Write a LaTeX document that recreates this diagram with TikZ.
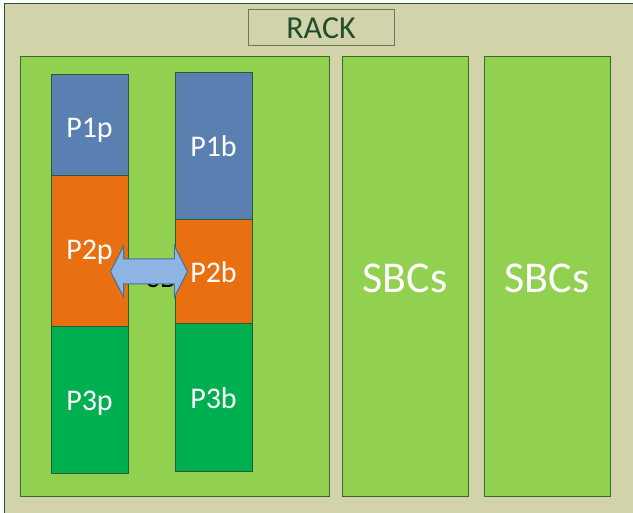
\documentclass[tikz,border=0pt]{standalone}
\usepackage{fontspec}
\setmainfont{Carlito}
\usetikzlibrary{shapes.arrows}
\definecolor{rackbg}{HTML}{D3D3AB}
\definecolor{rackline}{HTML}{2A5430}
\definecolor{racktxt}{HTML}{1F4E2A}
\definecolor{labline}{HTML}{5E7E58}
\definecolor{panelg}{HTML}{92D050}
\definecolor{panell}{HTML}{3A6A28}
\definecolor{pblue}{HTML}{5A80B2}
\definecolor{porange}{HTML}{E97010}
\definecolor{pgreen}{HTML}{00B050}
\definecolor{colline}{HTML}{2C5A36}
\definecolor{arrfill}{HTML}{8EB4E3}
\definecolor{arrline}{HTML}{41719C}
\tikzset{
  box/.style={rectangle, inner sep=0pt, outer sep=0pt, anchor=north west, line width=1pt},
  panel/.style={box, draw=panell, fill=panelg},
  seg/.style={box, draw=colline, line width=0.9pt},
  lab/.style={text=white, font=\fontsize{30}{32}\selectfont},
  big/.style={text=white, font=\fontsize{44}{46}\selectfont},
}
\begin{document}
\begin{tikzpicture}[x=1pt,y=-1pt]
\clip (0,0) rectangle (633,513);
\fill[white] (0,0) rectangle (633,513);
% outer rack
\node[box, draw=rackline, fill=rackbg, minimum width=640, minimum height=520] (rack) at (4,4) {};
\node[box, draw=labline, fill=rackbg, minimum width=146, minimum height=36] (racklab) at (248,10) {};
\node[text=racktxt, font=\fontsize{32}{34}\selectfont] (racktext) at (321,28.5) {RACK};
% panels
\node[panel, minimum width=309, minimum height=440] (left) at (20,57) {};
\node[panel, minimum width=126, minimum height=440] (mid) at (342,57) {};
\node[panel, minimum width=126, minimum height=440] (right) at (484,57) {};
\node[big] (sbc1) at (405,278) {SBCs};
\node[big] (sbc2) at (547,278) {SBCs};
% hidden text behind the arrow
\node[text=black, font=\fontsize{28}{30}\selectfont, anchor=base west, inner sep=0pt] (hid) at (147,288) {SB};
% column p
\node[seg, fill=pblue, minimum width=77, minimum height=101] (p1p) at (51,74) {};
\node[seg, fill=porange, minimum width=77, minimum height=151] (p2p) at (51,175) {};
\node[seg, fill=pgreen, minimum width=77, minimum height=147] (p3p) at (51,326) {};
% column b
\node[seg, fill=pblue, minimum width=77, minimum height=147] (p1b) at (175,72) {};
\node[seg, fill=porange, minimum width=77, minimum height=104] (p2b) at (175,219) {};
\node[seg, fill=pgreen, minimum width=77, minimum height=148] (p3b) at (175,323) {};
% labels
\node[lab] at (89.5,130) {P1p};
\node[lab] at (89.5,252) {P2p};
\node[lab] at (89.5,403) {P3p};
\node[lab] at (213.5,146) {P1b};
\node[lab] at (213.5,272) {P2b};
\node[lab] at (213.5,398) {P3b};
% double arrow
\node[double arrow, draw=arrline, fill=arrfill, line width=1pt,
  minimum height=77, inner xsep=0pt, inner ysep=12pt,
  double arrow head extend=13.5pt, double arrow tip angle=126] (arr) at (149,271.5) {};
\end{tikzpicture}
\end{document}
